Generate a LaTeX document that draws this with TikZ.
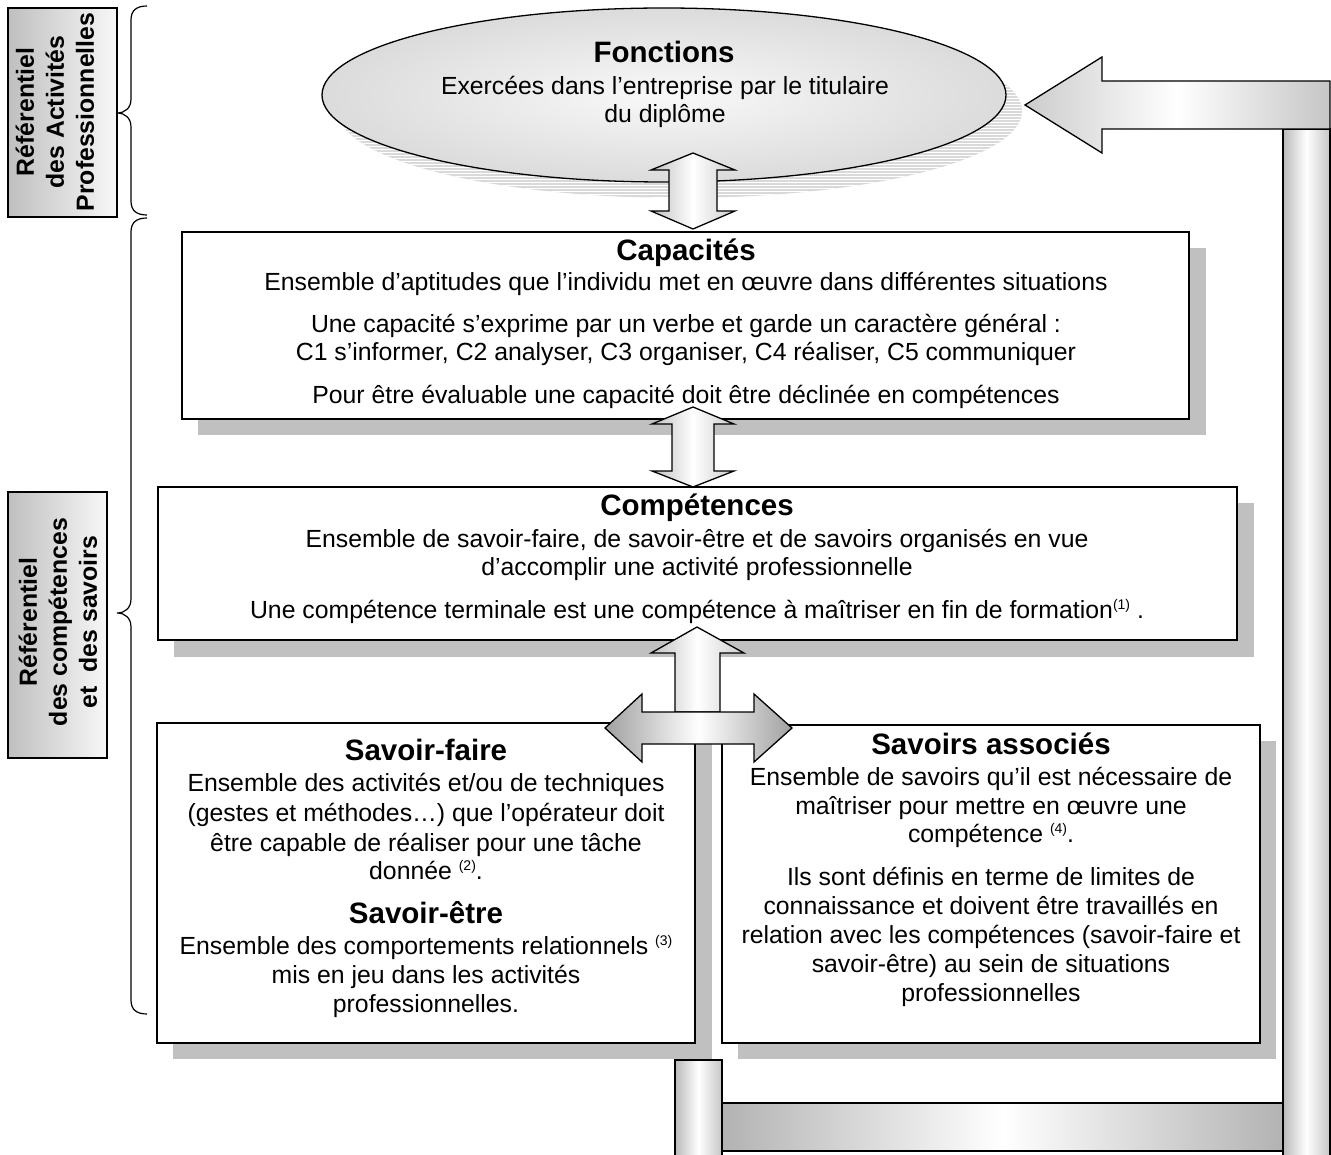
\documentclass[tikz,border=0pt]{standalone}
\usepackage{fontspec}
\setmainfont{Liberation Sans}
\usetikzlibrary{patterns}
\definecolor{shadowgray}{HTML}{C0C0C0}
\newcommand\supnote[1]{\raisebox{9pt}{\fontsize{14}{14}\selectfont #1}}
\begin{document}
\begin{tikzpicture}[x=1pt,y=-1pt,line join=miter,
  frame/.style={draw=black,line width=1.3pt,fill=white},
  shadebox/.style={fill=shadowgray,draw=none},
  txt/.style={font=\fontsize{24.8}{28}\selectfont,inner sep=0pt,anchor=base},
  ttl/.style={font=\bfseries\fontsize{29.5}{34}\selectfont,inner sep=0pt,anchor=base},
  lbl/.style={font=\bfseries\fontsize{24.8}{30}\selectfont,rotate=90,align=center,inner sep=0pt},
  lblbox/.style={draw=black,line width=1.3pt,left color=gray!50,right color=gray!6},
  blockarrow/.style={draw=black,line width=1.3pt,left color=gray!50,right color=gray!40,middle color=white},
  hzarrow/.style={draw=black,line width=1.3pt,left color=gray!75,right color=gray!75,middle color=white},
  pipe/.style={draw=black,line width=1.3pt,left color=gray!55,right color=gray!45,middle color=white},
  bar/.style={draw=black,line width=1.3pt,left color=gray!60,right color=gray!60,middle color=white},
  brace/.style={draw=black,line width=1.2pt},
]
\useasboundingbox (0,0) rectangle (1331,1155);

% ---------- side labels and braces ----------
\draw[lblbox] (8,8) rectangle (117,217);
\node[lbl] (rap) at (55,112) {Référentiel\\des Activités\\Professionnelles};
\draw[lblbox] (8,492) rectangle (107,758);
\node[lbl] (rcs) at (58,622) {Référentiel\\des compétences\\et\ \ des savoirs};

\draw[brace] (147,6) .. controls (137,6) and (131,10) .. (131,20) -- (131,99)
  .. controls (131,108) and (125,113) .. (117,113)
  .. controls (125,113) and (131,118) .. (131,127) -- (131,201)
  .. controls (131,211) and (137,215) .. (147,215);
\draw[brace] (147,218) .. controls (137,218) and (131,222) .. (131,232) -- (131,599)
  .. controls (131,608) and (125,613) .. (117,613)
  .. controls (125,613) and (131,618) .. (131,627) -- (131,1000)
  .. controls (131,1010) and (137,1014) .. (147,1014);

% ---------- shadows ----------
\fill[shadebox] (198,248) rectangle (1206,435);
\fill[shadebox] (174,503) rectangle (1254,657);
\fill[shadebox] (173,739) rectangle (712,1059);
\fill[shadebox] (738,741) rectangle (1276,1059);

% ---------- boxes ----------
\draw[frame] (182,232) rectangle (1189,419);
\draw[frame] (158,487) rectangle (1237,640);
\draw[frame] (157,723) rectangle (695,1043);
\draw[frame] (722,725) rectangle (1260,1043);

% ---------- ellipse ----------
\fill[gray!30] (680,111) ellipse [x radius=342, y radius=87];
\fill[pattern=horizontal lines,pattern color=white] (680,111) ellipse [x radius=342, y radius=87];
\draw[line width=1.3pt,inner color=gray!5,outer color=gray!28] (664,95) ellipse [x radius=342, y radius=87];

% ---------- texts ----------
\node[ttl] (fon) at (664,63) {Fonctions};
\node[txt] (fon1) at (665,95) {Exercées dans l’entreprise par le titulaire};
\node[txt] (fon2) at (665,123) {du diplôme};

\node[ttl] (cap) at (686,261) {Capacités};
\node[txt] (cap1) at (686,291) {Ensemble d’aptitudes que l’individu met en œuvre dans différentes situations};
\node[txt] (cap2) at (686,333) {Une capacité s’exprime par un verbe et garde un caractère général :};
\node[txt] (cap3) at (686,361) {C1 s’informer, C2 analyser, C3 organiser, C4 réaliser, C5 communiquer};
\node[txt] (cap4) at (686,404) {Pour être évaluable une capacité doit être déclinée en compétences};

\node[ttl] (com) at (697,515) {Compétences};
\node[txt] (com1) at (697,547) {Ensemble de savoir-faire, de savoir-être et de savoirs organisés en vue};
\node[txt] (com2) at (697,575) {d’accomplir une activité professionnelle};
\node[txt] (com3) at (697,618) {Une compétence terminale est une compétence à maîtriser en fin de formation\supnote{(1)} .};

\node[ttl] (sf) at (426,760) {Savoir-faire};
\node[txt] (sf1) at (426,791) {Ensemble des activités et/ou de techniques};
\node[txt] (sf2) at (426,821) {(gestes et méthodes…) que l’opérateur doit};
\node[txt] (sf3) at (426,851) {être capable de réaliser pour une tâche};
\node[txt] (sf4) at (426,879) {donnée \supnote{(2)}.};
\node[ttl] (se) at (426,923) {Savoir-être};
\node[txt] (se1) at (426,954) {Ensemble des comportements relationnels \supnote{(3)}};
\node[txt] (se2) at (426,983) {mis en jeu dans les activités};
\node[txt] (se3) at (426,1012) {professionnelles.};

\node[ttl] (sa) at (991,754) {Savoirs associés};
\node[txt] (sa1) at (991,785) {Ensemble de savoirs qu’il est nécessaire de};
\node[txt] (sa2) at (991,814) {maîtriser pour mettre en œuvre une};
\node[txt] (sa3) at (991,842) {compétence \supnote{(4)}.};
\node[txt] (sa4) at (991,885) {Ils sont définis en terme de limites de};
\node[txt] (sa5) at (991,914) {connaissance et doivent être travaillés en};
\node[txt] (sa6) at (991,943) {relation avec les compétences (savoir-faire et};
\node[txt] (sa7) at (991,972) {savoir-être) au sein de situations};
\node[txt] (sa8) at (991,1001) {professionnelles};

% ---------- block arrows ----------
\draw[blockarrow] (693,153) -- (735,170) -- (717,170) -- (717,211) -- (735,211) -- (693,229)
  -- (651,211) -- (669,211) -- (669,170) -- (651,170) -- cycle;
\draw[blockarrow] (693,407) -- (734,424) -- (714,424) -- (714,471) -- (734,471) -- (693,487)
  -- (652,471) -- (672,471) -- (672,424) -- (652,424) -- cycle;
\draw[blockarrow] (697,627) -- (744,653) -- (720,653) -- (720,712) -- (675,712) -- (675,653) -- (651,653) -- cycle;
\draw[hzarrow] (605,728) -- (642,694) -- (642,712) -- (754,712) -- (754,694) -- (792,728)
  -- (754,762) -- (754,744) -- (642,744) -- (642,762) -- cycle;

% ---------- feedback pipes ----------
\draw[pipe] (675,1060) rectangle (722,1160);
\draw[bar] (722,1103) rectangle (1283,1151);
\draw[pipe] (1283,129) rectangle (1330,1160);
\draw[draw=black,line width=1.3pt,left color=gray!40,right color=gray!45,middle color=white]
  (1025,105) -- (1102,57) -- (1102,81) -- (1330,81) -- (1330,129) -- (1102,129) -- (1102,153) -- cycle;
\end{tikzpicture}
\end{document}
